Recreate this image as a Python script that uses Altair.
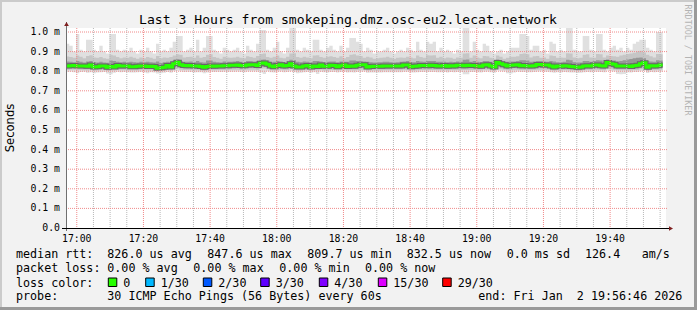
import altair as alt
import pandas as pd

# ---------------- data (values in milliseconds, one per minute) ----------------
median_ms = [
    0.826, 0.828, 0.829, 0.827, 0.827, 0.826, 0.825, 0.831, 0.822, 0.823,
    0.826, 0.826, 0.820, 0.824, 0.822, 0.829, 0.826, 0.826, 0.826, 0.823,
    0.823, 0.825, 0.827, 0.827, 0.824, 0.825, 0.824, 0.815, 0.817, 0.820,
    0.829, 0.822, 0.838, 0.846, 0.833, 0.829, 0.828, 0.829, 0.826, 0.826,
    0.824, 0.820, 0.824, 0.827, 0.825, 0.827, 0.827, 0.828, 0.828, 0.830,
    0.830, 0.832, 0.829, 0.828, 0.831, 0.833, 0.833, 0.829, 0.840, 0.842,
    0.836, 0.826, 0.823, 0.829, 0.833, 0.826, 0.829, 0.838, 0.826, 0.822,
    0.822, 0.826, 0.829, 0.822, 0.826, 0.824, 0.832, 0.825, 0.825, 0.830,
    0.829, 0.823, 0.828, 0.832, 0.824, 0.826, 0.825, 0.830, 0.833, 0.833,
    0.822, 0.824, 0.825, 0.825, 0.825, 0.826, 0.826, 0.826, 0.826, 0.826,
    0.827, 0.832, 0.832, 0.823, 0.825, 0.827, 0.829, 0.829, 0.828, 0.830,
    0.829, 0.826, 0.827, 0.829, 0.825, 0.828, 0.827, 0.830, 0.830, 0.828,
    0.830, 0.829, 0.829, 0.826, 0.825, 0.831, 0.833, 0.826, 0.822, 0.845,
    0.838, 0.833, 0.826, 0.830, 0.831, 0.833, 0.828, 0.829, 0.826, 0.826,
    0.828, 0.834, 0.834, 0.831, 0.831, 0.826, 0.822, 0.826, 0.825, 0.828,
    0.826, 0.824, 0.823, 0.820, 0.822, 0.826, 0.828, 0.826, 0.832, 0.831,
    0.828, 0.826, 0.845, 0.838, 0.835, 0.826, 0.826, 0.826, 0.826, 0.824,
    0.828, 0.830, 0.838, 0.843, 0.820, 0.828, 0.826, 0.828, 0.832,
]
hi_ms = [
    0.94, 0.93, 0.90, 0.99, 0.91, 0.90, 0.96, 0.96, 0.91, 0.90,
    0.93, 0.90, 0.89, 0.99, 0.99, 0.91, 0.90, 0.91, 0.90, 0.92,
    0.90, 0.89, 0.91, 0.90, 0.92, 0.90, 0.89, 0.94, 0.90, 0.91,
    0.90, 0.92, 0.95, 0.98, 0.98, 0.90, 0.91, 0.92, 0.90, 0.96,
    0.90, 0.92, 0.98, 0.98, 0.91, 0.90, 0.89, 0.92, 0.91, 0.90,
    0.91, 0.92, 0.90, 0.89, 0.93, 0.91, 0.90, 0.94, 1.01, 1.01,
    0.91, 0.90, 0.92, 0.95, 0.90, 0.89, 0.92, 1.02, 1.02, 0.91,
    0.90, 0.92, 0.91, 0.90, 0.96, 0.96, 0.91, 0.90, 0.92, 0.93,
    0.91, 0.90, 0.93, 0.90, 0.92, 0.97, 0.97, 0.95, 0.94, 0.90,
    0.92, 0.91, 0.89, 0.90, 0.90, 0.91, 0.92, 0.90, 0.89, 0.90,
    0.91, 0.90, 0.92, 0.91, 0.90, 0.95, 0.91, 0.90, 0.95, 0.94,
    0.95, 0.90, 0.92, 0.90, 0.91, 0.90, 0.89, 0.91, 0.90, 1.02,
    1.02, 0.90, 0.95, 0.91, 0.90, 0.94, 0.93, 0.90, 0.89, 0.90,
    0.91, 0.89, 0.90, 0.92, 0.92, 0.92, 0.99, 0.99, 0.98, 0.91,
    0.93, 0.93, 0.90, 0.91, 0.89, 0.95, 0.94, 0.90, 0.91, 0.90,
    1.02, 1.02, 0.91, 0.90, 0.90, 0.98, 0.98, 0.91, 0.90, 0.99,
    0.99, 0.91, 0.90, 0.92, 0.93, 0.91, 0.92, 0.90, 0.92, 0.91,
    0.94, 0.95, 0.96, 0.96, 0.92, 0.91, 0.90, 1.00, 1.00,
]
q90_ms = [
    .875, .872, .868, .880, .874, .866, .878, .882, .870, .868,
    .872, .866, .864, .884, .880, .872, .866, .870, .868, .874,
    .868, .864, .870, .866, .872, .868, .864, .878, .866, .870,
    .868, .872, .880, .886, .884, .870, .872, .874, .868, .880,
    .868, .872, .884, .886, .872, .868, .864, .874, .870, .868,
    .870, .874, .868, .866, .876, .872, .868, .878, .888, .890,
    .872, .868, .874, .880, .868, .866, .874, .890, .892, .872,
    .868, .874, .870, .866, .880, .882, .872, .868, .874, .876,
    .872, .868, .876, .866, .872, .884, .886, .880, .878, .868,
    .874, .870, .864, .866, .868, .870, .874, .868, .864, .868,
    .870, .868, .874, .870, .866, .880, .872, .868, .882, .880,
    .882, .868, .874, .866, .870, .868, .864, .870, .868, .890,
    .892, .868, .880, .870, .866, .878, .876, .868, .864, .880,
    .874, .864, .868, .874, .874, .876, .888, .890, .886, .870,
    .876, .878, .868, .870, .864, .880, .878, .868, .870, .868,
    .892, .890, .870, .866, .868, .884, .886, .870, .868, .888,
    .886, .870, .880, .878, .876, .874, .880, .884, .888, .890,
    .894, .900, .904, .896, .884, .876, .870, .888, .886,
]
q75_ms = [
    .850, .848, .846, .852, .848, .845, .850, .852, .846, .845,
    .848, .845, .843, .854, .852, .848, .846, .848, .846, .848,
    .846, .845, .848, .846, .848, .846, .844, .850, .842, .846,
    .848, .846, .855, .860, .852, .848, .848, .850, .846, .852,
    .846, .845, .854, .855, .848, .846, .845, .850, .848, .848,
    .850, .852, .848, .846, .852, .852, .850, .852, .858, .860,
    .854, .846, .848, .852, .850, .846, .850, .858, .856, .848,
    .846, .850, .848, .846, .852, .852, .850, .846, .848, .850,
    .850, .846, .850, .848, .848, .854, .854, .852, .852, .850,
    .848, .846, .845, .846, .846, .848, .848, .846, .845, .846,
    .848, .850, .852, .846, .846, .852, .850, .848, .852, .852,
    .852, .848, .848, .848, .846, .848, .846, .850, .848, .858,
    .860, .848, .852, .848, .846, .852, .852, .848, .845, .860,
    .855, .850, .848, .850, .850, .852, .856, .856, .855, .848,
    .850, .852, .852, .850, .848, .852, .850, .846, .846, .848,
    .858, .856, .846, .844, .845, .852, .852, .848, .852, .856,
    .854, .848, .860, .856, .854, .850, .852, .856, .860, .862,
    .866, .868, .870, .866, .852, .850, .848, .856, .855,
]
q25_ms = [
    .814, .815, .816, .814, .814, .813, .812, .815, .810, .811,
    .813, .813, .809, .812, .811, .814, .813, .813, .813, .811,
    .811, .812, .813, .813, .812, .812, .811, .806, .808, .809,
    .814, .810, .820, .826, .818, .815, .814, .815, .813, .813,
    .812, .809, .812, .814, .813, .814, .814, .814, .814, .815,
    .815, .816, .814, .814, .816, .817, .817, .815, .822, .824,
    .820, .813, .811, .815, .817, .813, .815, .820, .813, .810,
    .810, .813, .815, .810, .813, .812, .816, .812, .812, .815,
    .815, .811, .814, .816, .812, .813, .812, .815, .817, .817,
    .810, .812, .812, .812, .812, .813, .813, .813, .813, .813,
    .813, .816, .816, .811, .812, .813, .815, .815, .814, .815,
    .815, .813, .813, .815, .812, .814, .813, .815, .815, .814,
    .815, .815, .815, .813, .812, .816, .817, .813, .810, .826,
    .820, .817, .813, .815, .816, .817, .814, .815, .813, .813,
    .814, .818, .818, .816, .816, .813, .810, .813, .812, .814,
    .813, .812, .811, .809, .810, .813, .814, .813, .816, .816,
    .814, .813, .826, .820, .818, .813, .813, .813, .813, .812,
    .814, .815, .820, .824, .809, .814, .813, .814, .816,
]
q10_ms = [
    .806, .807, .807, .806, .806, .805, .804, .806, .802, .803,
    .805, .805, .801, .804, .803, .806, .805, .805, .805, .803,
    .803, .804, .805, .805, .804, .804, .803, .798, .800, .801,
    .806, .802, .810, .814, .808, .806, .806, .806, .805, .805,
    .804, .801, .804, .806, .805, .806, .806, .806, .806, .807,
    .807, .808, .806, .806, .808, .808, .808, .806, .812, .814,
    .810, .805, .803, .806, .808, .805, .806, .810, .805, .802,
    .802, .805, .806, .802, .805, .804, .807, .804, .804, .806,
    .806, .803, .806, .807, .804, .805, .804, .806, .808, .808,
    .802, .804, .804, .804, .804, .805, .805, .805, .805, .805,
    .805, .807, .807, .803, .804, .805, .806, .806, .806, .806,
    .806, .805, .805, .806, .804, .806, .805, .806, .806, .806,
    .806, .806, .806, .805, .804, .807, .808, .805, .802, .814,
    .810, .808, .805, .806, .807, .808, .806, .806, .805, .805,
    .806, .808, .808, .807, .807, .805, .802, .805, .804, .806,
    .805, .804, .803, .801, .802, .805, .806, .805, .807, .807,
    .806, .805, .814, .810, .808, .805, .805, .805, .805, .804,
    .806, .806, .810, .814, .801, .806, .805, .806, .807,
]
lo_ms = [
    .796, .798, .795, .790, .796, .797, .792, .795, .790, .794,
    .795, .796, .788, .785, .792, .797, .795, .796, .795, .793,
    .794, .795, .796, .794, .790, .795, .794, .788, .790, .792,
    .796, .792, .800, .804, .798, .796, .797, .796, .794, .795,
    .795, .790, .794, .797, .796, .797, .796, .797, .796, .797,
    .797, .798, .796, .795, .798, .799, .798, .797, .793, .786,
    .800, .795, .793, .797, .798, .795, .796, .800, .795, .790,
    .792, .795, .796, .792, .795, .786, .797, .795, .794, .796,
    .796, .793, .796, .797, .794, .795, .794, .796, .797, .798,
    .792, .794, .794, .794, .794, .795, .795, .795, .795, .795,
    .795, .797, .797, .793, .794, .795, .796, .796, .796, .796,
    .796, .795, .795, .796, .794, .796, .795, .796, .796, .784,
    .785, .796, .796, .795, .794, .797, .798, .795, .792, .804,
    .800, .798, .790, .788, .794, .798, .796, .796, .795, .795,
    .796, .798, .798, .797, .797, .795, .792, .795, .794, .796,
    .795, .794, .793, .791, .792, .795, .796, .795, .797, .797,
    .796, .795, .804, .800, .798, .786, .785, .786, .795, .794,
    .796, .796, .800, .804, .791, .796, .795, .796, .797,
]

start_time = "16:56:46"
end_time = "19:56:46"
time_labels = ["17:00", "17:20", "17:40", "18:00", "18:20", "18:40", "19:00", "19:20", "19:40"]
y_ticks = [0.0, 0.1, 0.2, 0.3, 0.4, 0.5, 0.6, 0.7, 0.8, 0.9, 1.0]
y_labels = ["0.0", "0.1 m", "0.2 m", "0.3 m", "0.4 m", "0.5 m", "0.6 m", "0.7 m", "0.8 m", "0.9 m", "1.0 m"]

title_text = "Last 3 Hours from smokeping.dmz.osc-eu2.lecat.network"
loss_labels = ["0", "1/30", "2/30", "3/30", "4/30", "15/30", "29/30"]
loss_colors = ["#26ff00", "#00b8ff", "#0059ff", "#5e00ff", "#7e00ff", "#dd00ff", "#ff0000"]

n = len(median_ms)
for arr in (hi_ms, q90_ms, q75_ms, q25_ms, q10_ms, lo_ms):
    assert len(arr) == n, len(arr)

NB = "\u00a0"
MONO = "DejaVu Sans Mono"


def tmin(s):
    p = [int(v) for v in s.split(":")] + [0]
    return p[0] * 60 + p[1] + p[2] / 60.0


T0 = tmin(start_time)
SPAN = tmin(end_time) - T0

# ---------------- layout ----------------
L, T = 66, 28          # plot origin on the canvas
W, H = 600, 200
YMAX = 200.0 / 196.0   # 1.0 ms sits 4 px below the plot top

xs = alt.Scale(domain=[0, SPAN], nice=False, zero=False)
ys = alt.Scale(domain=[0, YMAX], nice=False, zero=False)


def ext(a):
    return list(a) + [a[-1]]


smoke = pd.DataFrame({
    "m": list(range(n)) + [n],
    "lo": ext(lo_ms), "q10": ext(q10_ms), "q25": ext(q25_ms),
    "med": ext(median_ms), "q75": ext(q75_ms), "q90": ext(q90_ms), "hi": ext(hi_ms),
})

X = alt.X("m:Q", scale=xs, axis=None)


def band(lo, hi, color):
    return alt.Chart(smoke).mark_area(interpolate="step-after", color=color, opacity=1).encode(
        x=X, y=alt.Y(f"{lo}:Q", scale=ys, axis=None), y2=f"{hi}:Q")


layers = [
    band("lo", "hi", "#e0e0e0"),
    band("q10", "q90", "#c6c6c6"),
    band("q25", "q75", "#979797"),
    alt.Chart(smoke).mark_line(interpolate="step-after", color="#666666", strokeWidth=5, strokeCap="butt").encode(
        x=X, y=alt.Y("med:Q", scale=ys, axis=None)),
    alt.Chart(smoke).mark_line(interpolate="step-after", color="#26ff00", strokeWidth=3, strokeCap="butt").encode(
        x=X, y=alt.Y("med:Q", scale=ys, axis=None)),
]

# grid
major_m = [tmin(s) - T0 for s in time_labels]
minor_m = []
k = tmin("17:05") - T0
while k < SPAN:
    if all(abs(k - mm) > 0.01 for mm in major_m):
        minor_m.append(k)
    k += 5
layers.append(alt.Chart(pd.DataFrame({"m": minor_m})).mark_rule(
    color="#b8b8b8", strokeDash=[1, 1], strokeWidth=1).encode(x=X, y=alt.value(0), y2=alt.value(H)))
layers.append(alt.Chart(pd.DataFrame({"m": major_m})).mark_rule(
    color="#f08a8a", strokeDash=[1, 1], strokeWidth=1).encode(x=X, y=alt.value(0), y2=alt.value(H)))
layers.append(alt.Chart(pd.DataFrame({"v": y_ticks[1:]})).mark_rule(
    color="#f08a8a", strokeDash=[1, 1], strokeWidth=1).encode(
        y=alt.Y("v:Q", scale=ys, axis=None), x=alt.value(0), x2=alt.value(W + 2)))

one = pd.DataFrame({"k": [0]})


def rule(x1, x2, y1, y2, color, sw=1):
    return alt.Chart(one).mark_rule(color=color, strokeWidth=sw).encode(
        x=alt.value(x1 - L), x2=alt.value(x2 - L), y=alt.value(y1 - T), y2=alt.value(y2 - T))


def box(x1, x2, y1, y2, fill, stroke=None):
    kw = dict(fill=fill)
    if stroke:
        kw.update(stroke=stroke, strokeWidth=1)
    return alt.Chart(one).mark_rect(**kw).encode(
        x=alt.value(x1 - L), x2=alt.value(x2 - L), y=alt.value(y1 - T), y2=alt.value(y2 - T))


def txt(s, x, y, size=11.7, align="left", font=MONO, color="#000000", angle=0, baseline="alphabetic"):
    return alt.Chart(one).mark_text(text=s.replace(" ", NB), fontSize=size, font=font, align=align,
                                    baseline=baseline, color=color, angle=angle).encode(
        x=alt.value(x - L), y=alt.value(y - T))


# axes
layers += [
    rule(66.5, 66.5, 22, 231, "#707070"),
    rule(62, 670, 228.5, 228.5, "#000000"),
    alt.Chart(one).mark_point(shape="triangle-up", filled=True, size=22, color="#7f1f1f", opacity=1).encode(
        x=alt.value(0.5), y=alt.value(24 - T)),
    alt.Chart(one).mark_point(shape="triangle-right", filled=True, size=22, color="#7f1f1f", opacity=1).encode(
        x=alt.value(671 - L), y=alt.value(228.5 - T)),
]

# tick labels
layers.append(alt.Chart(pd.DataFrame({"m": major_m, "lab": time_labels})).mark_text(
    font=MONO, fontSize=9.8, baseline="alphabetic", align="center", color="#000000").encode(
        x=X, y=alt.value(241.5 - T), text="lab:N"))
layers.append(alt.Chart(pd.DataFrame({"v": y_ticks, "lab": [s.ljust(5).replace(" ", NB) for s in y_labels]})).mark_text(
    font=MONO, fontSize=9.8, baseline="middle", align="right", color="#000000").encode(
        y=alt.Y("v:Q", scale=ys, axis=None), x=alt.value(60 - L), text="lab:N"))

# titles
layers += [
    txt(title_text, 348, 23.5, size=13.1, align="center"),
    txt("Seconds", 14, 128, size=11.6, font="DejaVu Sans", align="center", angle=270),
    txt("RRDTOOL / TOBI OETIKER", 685, 60, size=8.4, align="center", angle=90, color="#b4b4b4"),
]

# legend
rows = [
    (258, [("median rtt:", 16), ("826.0 us avg", 107.3), ("847.6 us max", 207.3), ("809.7 us min", 307.3),
           ("832.5 us now", 406.7), ("0.0 ms sd", 506.7), ("126.4", 585), ("am/s", 641.7)]),
    (272, [("packet loss:", 16), ("0.00 % avg", 107.3), ("0.00 % max", 193.3), ("0.00 % min", 279.3),
           ("0.00 % now", 365)]),
    (286.5, [("loss color:", 16)]),
    (300, [("probe:", 16), ("30 ICMP Echo Pings (56 Bytes) every 60s", 107.3),
           ("end: Fri Jan  2 19:56:46 2026", 478.3)]),
]
for yb, segs in rows:
    for s, x in segs:
        layers.append(txt(s, x, yb))

sq_x = [108.3, 145.7, 203.3, 260.7, 319.3, 378.3, 442.7]
for lab, col, x in zip(loss_labels, loss_colors, sq_x):
    layers.append(box(x, x + 8.5, 278, 286.5, col, "#000000"))
    layers.append(txt(lab, x + 15, 286.5))

# frame
layers += [
    box(0, 697, 0, 2, "#cbcbcb"),
    box(0, 2, 0, 310, "#cbcbcb"),
    box(694, 697, 0, 310, "#9a9a9a"),
    box(0, 697, 307, 310, "#9a9a9a"),
]

chart = alt.layer(*layers).properties(
    width=W, height=H,
    autosize=alt.AutoSizeParams(type="none"),
    padding={"left": L, "top": T, "right": 697 - L - W, "bottom": 310 - T - H},
).configure(background="#f2f2f2").configure_view(fill="white", strokeWidth=0)

chart.save("out.html", embed_options={"renderer": "svg", "actions": False})
